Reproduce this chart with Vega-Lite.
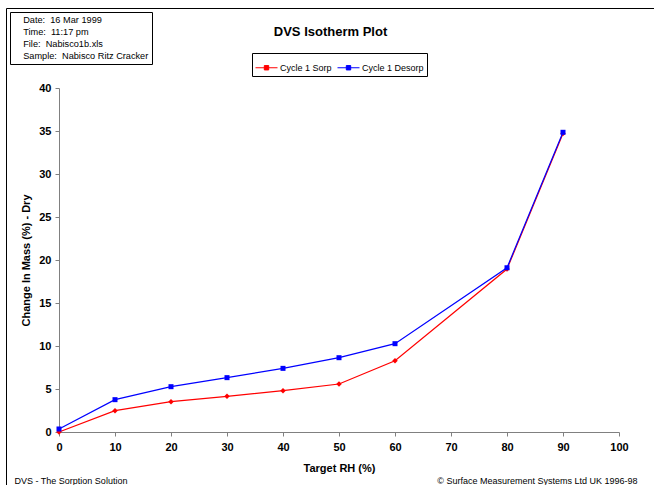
{
  "$schema": "https://vega.github.io/schema/vega-lite/v6.json",
  "width": 560,
  "height": 344,
  "autosize": {"type": "none"},
  "padding": {"left": 59, "top": 88, "right": 35, "bottom": 53},
  "background": "white",
  "config": {
    "view": {"stroke": null},
    "font": "Liberation Sans",
    "axis": {"labelFont": "Liberation Sans", "titleFont": "Liberation Sans", "labelColor": "black", "titleColor": "black"},
    "legend": {"labelFont": "Liberation Sans", "labelColor": "black"}
  },
  "datasets": {
    "main": [
      {"rh": 0, "mass": 0.0, "cycle": "Cycle 1 Sorp"},
      {"rh": 10, "mass": 2.48, "cycle": "Cycle 1 Sorp"},
      {"rh": 20, "mass": 3.53, "cycle": "Cycle 1 Sorp"},
      {"rh": 30, "mass": 4.15, "cycle": "Cycle 1 Sorp"},
      {"rh": 40, "mass": 4.8, "cycle": "Cycle 1 Sorp"},
      {"rh": 50, "mass": 5.58, "cycle": "Cycle 1 Sorp"},
      {"rh": 60, "mass": 8.29, "cycle": "Cycle 1 Sorp"},
      {"rh": 80, "mass": 18.95, "cycle": "Cycle 1 Sorp"},
      {"rh": 90, "mass": 34.7, "cycle": "Cycle 1 Sorp"},
      {"rh": 0, "mass": 0.35, "cycle": "Cycle 1 Desorp"},
      {"rh": 10, "mass": 3.76, "cycle": "Cycle 1 Desorp"},
      {"rh": 20, "mass": 5.27, "cycle": "Cycle 1 Desorp"},
      {"rh": 30, "mass": 6.32, "cycle": "Cycle 1 Desorp"},
      {"rh": 40, "mass": 7.4, "cycle": "Cycle 1 Desorp"},
      {"rh": 50, "mass": 8.64, "cycle": "Cycle 1 Desorp"},
      {"rh": 60, "mass": 10.27, "cycle": "Cycle 1 Desorp"},
      {"rh": 80, "mass": 19.1, "cycle": "Cycle 1 Desorp"},
      {"rh": 90, "mass": 34.85, "cycle": "Cycle 1 Desorp"}
    ],
    "info": [
      {"info": "Date:\u00a0 16 Mar 1999"},
      {"info": "Time:\u00a0 11:17 pm"},
      {"info": "File:\u00a0 Nabisco1b.xls"},
      {"info": "Sample:\u00a0 Nabisco Ritz Cracker"}
    ]
  },
  "layer": [
    {
      "data": {"name": "main"},
      "encoding": {
        "x": {
          "field": "rh", "type": "quantitative",
          "scale": {"domain": [0, 100], "nice": false, "zero": false},
          "axis": {
            "orient": "bottom", "values": [0, 10, 20, 30, 40, 50, 60, 70, 80, 90, 100],
            "grid": false, "domainColor": "#808080", "tickColor": "#808080", "tickSize": 4,
            "labelFontWeight": "bold", "labelFontSize": 11, "labelPadding": 5, "labelFlush": false,
            "title": "Target RH (%)", "titleFontSize": 11, "titleFontWeight": "bold", "titlePadding": 10
          }
        },
        "y": {
          "field": "mass", "type": "quantitative",
          "scale": {"domain": [0, 40], "nice": false},
          "axis": {
            "orient": "left", "values": [0, 5, 10, 15, 20, 25, 30, 35, 40],
            "grid": false, "domainColor": "#808080", "tickColor": "#808080", "tickSize": 4,
            "labelFontWeight": "bold", "labelFontSize": 11, "labelPadding": 4, "labelFlush": false,
            "title": "Change In Mass (%) - Dry", "titleFontSize": 11, "titleFontWeight": "bold", "titlePadding": 7
          }
        },
        "color": {
          "field": "cycle", "type": "nominal",
          "scale": {"domain": ["Cycle 1 Sorp", "Cycle 1 Desorp"], "range": ["#FF0000", "#0000FF"]},
          "legend": {
            "orient": "none", "legendX": 193, "legendY": -35, "direction": "horizontal",
            "title": null, "strokeColor": "black", "padding": 3,
            "symbolType": "M-1,0H1M-0.2,-0.2H0.2V0.2H-0.2Z", "symbolSize": 484,
            "symbolStrokeWidth": 1, "labelFontSize": 9, "labelOffset": 2, "columnPadding": 3,
            "encode": {"symbols": {"update": {"fill": {"scale": "color", "field": "value"}, "stroke": {"scale": "color", "field": "value"}, "opacity": {"value": 1}}}}
          }
        }
      },
      "layer": [
        {"transform": [{"filter": "datum.cycle === 'Cycle 1 Sorp'"}], "mark": {"type": "line", "strokeWidth": 1.2}},
        {"transform": [{"filter": "datum.cycle === 'Cycle 1 Sorp'"}], "mark": {"type": "point", "shape": "diamond", "filled": true, "size": 30, "opacity": 1}},
        {"transform": [{"filter": "datum.cycle === 'Cycle 1 Desorp'"}], "mark": {"type": "line", "strokeWidth": 1.2}},
        {"transform": [{"filter": "datum.cycle === 'Cycle 1 Desorp'"}], "mark": {"type": "point", "shape": "square", "filled": true, "size": 25, "opacity": 1}}
      ]
    },
    {
      "data": {"name": "info"},
      "mark": {"type": "point", "opacity": 0},
      "encoding": {
        "x": {
          "datum": 0, "type": "quantitative",
          "scale": {"domain": [0, 1], "range": [-53, 595]},
          "axis": {
            "orient": "top", "offset": 80, "domainColor": "black", "domainWidth": 1,
            "ticks": false, "labels": false, "grid": false,
            "title": "DVS Isotherm Plot", "titleX": 271, "titleY": 23, "titleAngle": 0,
            "titleAlign": "center", "titleBaseline": "middle", "titleFontSize": 13, "titleFontWeight": "bold"
          }
        },
        "y": {
          "datum": 0, "type": "quantitative",
          "scale": {"domain": [0, 1], "range": [397, -80]},
          "axis": {
            "orient": "left", "offset": 53, "domainColor": "black", "domainWidth": 1,
            "ticks": false, "labels": false, "grid": false,
            "title": "© Surface Measurement Systems Ltd UK 1996-98", "titleX": 631, "titleY": 392, "titleAngle": 0,
            "titleAlign": "right", "titleBaseline": "middle", "titleFontSize": 9, "titleFontWeight": "normal"
          }
        },
        "shape": {
          "field": "info", "type": "nominal",
          "scale": {"domain": ["Date:\u00a0 16 Mar 1999", "Time:\u00a0 11:17 pm", "File:\u00a0 Nabisco1b.xls", "Sample:\u00a0 Nabisco Ritz Cracker"]},
          "legend": {
            "orient": "none", "legendX": -49, "legendY": -76, "direction": "vertical",
            "title": null, "strokeColor": "black", "padding": 3,
            "symbolSize": 0, "symbolStrokeWidth": 0, "symbolOpacity": 0, "labelOffset": 1,
            "labelFontSize": 9.2, "labelLimit": 300, "rowPadding": 2
          }
        }
      }
    },
    {
      "data": {"name": "info"},
      "mark": {"type": "point", "opacity": 0},
      "encoding": {
        "x": {
          "datum": 0, "type": "quantitative",
          "scale": {"domain": [0, 1]},
          "axis": {
            "orient": "bottom", "domain": false, "ticks": false, "labels": false, "grid": false,
            "title": "DVS - The Sorption Solution", "titleX": -45, "titleY": 48, "titleAngle": 0,
            "titleAlign": "left", "titleBaseline": "middle", "titleFontSize": 9, "titleFontWeight": "normal"
          }
        },
        "y": {"datum": 0, "type": "quantitative", "scale": {"domain": [0, 1]}, "axis": null}
      }
    }
  ],
  "resolve": {
    "scale": {"x": "independent", "y": "independent", "shape": "independent"},
    "axis": {"x": "independent", "y": "independent"}
  }
}
